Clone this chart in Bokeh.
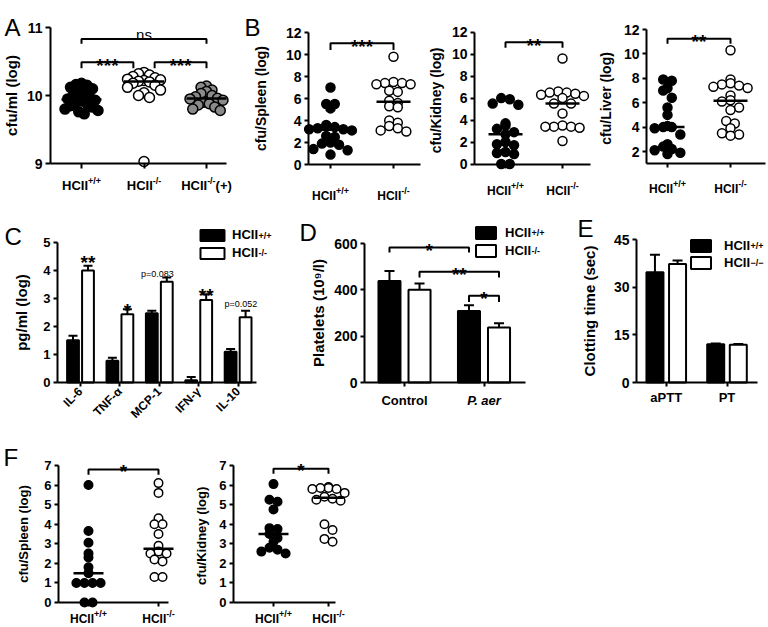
import math
import numpy as np
from bokeh.plotting import figure
from bokeh.models import (Range1d, FixedTicker, Label, Whisker, TeeHead,
                          ColumnDataSource, Legend, LegendItem)
from bokeh.layouts import row, column
from bokeh.embed import file_html
from bokeh.resources import INLINE

FONT = "Liberation Sans"

# ---------------- data ----------------
# Panel A: cfu/ml (log)
A_X = [1, 2, 3]
A_SUP = ["+/+", "-/-", "-/-"]
A_TAIL = ["", "", "(+)"]
A_WT = [10.18, 10.16, 10.15, 10.12, 10.10, 10.06, 10.03, 10.00, 9.97, 9.95,
        9.93, 9.92, 9.90, 9.88, 9.85, 9.83, 9.80, 9.78, 9.76, 9.73]
A_KO = [10.34, 10.32, 10.30, 10.28, 10.26, 10.24, 10.23, 10.22, 10.21, 10.20,
        10.18, 10.15, 10.12, 10.08, 10.04, 10.00, 9.97, 9.03]
A_KOP = [10.14, 10.12, 10.08, 10.06, 10.03, 10.00, 9.98, 9.96, 9.95, 9.93,
         9.90, 9.88, 9.86, 9.83, 9.80, 9.78]
A_YTICKS = [9, 10, 11]

# Panel B: organ counts (log)
B_X = [1, 2]
B_SUP = ["+/+", "-/-"]
B_SPLEEN_WT = [7.0, 5.5, 5.5, 5.1, 3.6, 3.4, 3.3, 3.2, 3.2, 3.1, 2.6, 2.5, 2.0, 1.9, 1.8, 1.4, 1.3, 0.9]
B_SPLEEN_KO = [9.8, 7.5, 7.4, 7.4, 7.3, 7.3, 6.7, 6.6, 5.8, 5.6, 5.3, 5.2, 4.0, 3.8, 3.5, 3.3, 3.1, 3.0]
B_KIDNEY_WT = [6.0, 5.9, 5.5, 5.4, 3.7, 3.5, 3.2, 2.9, 2.7, 2.0, 1.8, 1.7, 1.1, 1.0, 0.9, 0.0, 0.0]
B_KIDNEY_KO = [9.6, 6.6, 6.5, 6.5, 6.4, 6.3, 6.2, 6.0, 5.5, 5.5, 4.6, 3.5, 3.4, 3.4, 3.4, 3.3, 2.1]
B_LIVER_WT = [7.9, 7.8, 7.2, 7.0, 6.4, 5.6, 5.0, 4.1, 4.0, 4.0, 3.9, 3.4, 2.6, 2.4, 2.2, 2.1, 1.9, 1.8]
B_LIVER_KO = [10.3, 7.9, 7.6, 7.5, 7.4, 7.3, 7.2, 6.6, 6.2, 6.1, 5.6, 5.4, 4.5, 4.3, 3.9, 3.5, 3.4, 3.3]
B_YTICKS = [0, 2, 4, 6, 8, 10, 12]
B_LIVER_YTICKS = [2, 4, 6, 8, 10, 12]

# Panel C: cytokines pg/ml (log)
C_CYTOKINES = ["IL-6", "TNF-\u03b1", "MCP-1", "IFN-\u03b3", "IL-10"]
C_WT = [1.51, 0.78, 2.47, 0.08, 1.10]
C_WT_ERR = [0.16, 0.10, 0.09, 0.12, 0.10]
C_KO = [4.00, 2.44, 3.60, 2.95, 2.33]
C_KO_ERR = [0.17, 0.18, 0.15, 0.20, 0.23]
C_YTICKS = [0, 1, 2, 3, 4, 5]

# Panel D: platelets
D_GROUPS = ["Control", "P. aer"]
D_WT = [438, 309]
D_WT_ERR = [43, 24]
D_KO = [400, 237]
D_KO_ERR = [27, 19]
D_YTICKS = [0, 200, 400, 600]

# Panel E: clotting time
E_TESTS = ["aPTT", "PT"]
E_WT = [34.7, 12.0]
E_WT_ERR = [5.5, 0.3]
E_KO = [37.3, 11.9]
E_KO_ERR = [1.1, 0.2]
E_YTICKS = [0, 15, 30, 45]

# Panel F
F_SPLEEN_WT = [6.0, 3.65, 3.05, 2.5, 2.3, 1.8, 1.5, 1.0, 1.0, 1.0, 1.0, 0.0, 0.0]
F_SPLEEN_KO = [6.1, 5.6, 4.3, 4.0, 4.0, 3.5, 2.9, 2.6, 2.5, 2.5, 2.2, 2.1, 1.3, 1.3]
F_KIDNEY_WT = [6.05, 5.25, 5.15, 4.75, 3.8, 3.75, 3.5, 3.3, 3.1, 2.8, 2.7, 2.6, 2.5]
F_KIDNEY_KO = [5.9, 5.85, 5.85, 5.8, 5.8, 5.6, 5.4, 5.3, 5.25, 5.2, 4.0, 3.7, 3.25, 3.1]
F_YTICKS = [0, 1, 2, 3, 4, 5, 6, 7]

# ---------------- helpers ----------------
W = {'H': .722, 'C': .722, 'I': .278, '+': .584, '/': .278, '-': .333,
     '\u2212': .584, '(': .333, ')': .333}


def tw(s, size):
    return sum(W.get(ch, .556) for ch in s) * size


class Panel:
    """Figure whose frame covers its whole box; axes sit at fixed locations."""

    def __init__(self, box, xref, yref):
        (xp1, xv1), (xp2, xv2) = xref
        (yp1, yv1), (yp2, yv2) = yref
        self.xp1, self.xv1, self.ax = xp1, xv1, (xv2 - xv1) / (xp2 - xp1)
        self.yp1, self.yv1, self.ay = yp1, yv1, (yv2 - yv1) / (yp2 - yp1)
        self.ppx = abs(1 / self.ax)
        self.ppy = abs(1 / self.ay)
        bl, bt, br, bb = box
        self.box = box
        self.p = figure(width=br - bl, height=bb - bt,
                        x_range=Range1d(self.vx(bl), self.vx(br)),
                        y_range=Range1d(self.vy(bb), self.vy(bt)),
                        min_border_left=0, min_border_right=0,
                        min_border_top=0, min_border_bottom=0,
                        output_backend="svg", toolbar_location=None, title=None)
        self.p.outline_line_color = None
        self.p.xgrid.visible = False
        self.p.ygrid.visible = False

    def vx(self, px):
        return self.xv1 + (px - self.xp1) * self.ax

    def vy(self, py):
        return self.yv1 + (py - self.yp1) * self.ay


def lab(P, x, y, text, size, style="bold", align="left", xo=0, yo=0):
    P.p.add_layout(Label(x=x, y=y, text=text, x_offset=xo, y_offset=yo,
                         text_font=FONT, text_font_size=f"{size}px",
                         text_font_style=style, text_align=align,
                         text_baseline="alphabetic", text_color="black"))


def plab(P, px, py, text, size, style="bold", align="left"):
    lab(P, P.vx(px), P.vy(py), text, size, style=style, align=align)


def hcii(P, x, y, sup, tail="", size=13, supsize=9, rise=5, center=True, xo=0):
    wm, ws, wt = tw("HCII", size), tw(sup, supsize), tw(tail, size)
    x0 = xo - (wm + ws + wt) / 2 if center else xo
    lab(P, x, y, "HCII", size, xo=x0)
    lab(P, x, y, sup, supsize, xo=x0 + wm, yo=rise)
    if tail:
        lab(P, x, y, tail, size, xo=x0 + wm + ws)


def style(P, yaxis_px, xend_px, x_at, yticks, ybounds, ylabel, ylab_size,
          ylab_standoff, tick_size, xticks, xlabels=None, xlab_size=13,
          xorient=None, tick_out=4, ystandoff=3):
    p = P.p
    ya, xa = p.yaxis[0], p.xaxis[0]
    for ax in (ya, xa):
        ax.axis_line_width = 2
        ax.axis_line_color = "black"
        ax.major_tick_line_width = 2
        ax.major_tick_line_color = "black"
        ax.major_tick_in = 0
        ax.major_tick_out = tick_out
        ax.minor_tick_line_color = None
        ax.major_label_text_font = FONT
        ax.major_label_text_font_style = "bold"
        ax.major_label_text_color = "black"
        ax.major_label_standoff = 3
    ya.major_label_standoff = ystandoff
    ya.fixed_location = P.vx(yaxis_px)
    ya.ticker = FixedTicker(ticks=yticks)
    ya.bounds = ybounds
    ya.major_label_text_font_size = f"{tick_size}px"
    ya.axis_label = ylabel
    ya.axis_label_text_font = FONT
    ya.axis_label_text_font_style = "bold"
    ya.axis_label_text_font_size = f"{ylab_size}px"
    ya.axis_label_standoff = ylab_standoff
    ya.axis_label_text_color = "black"
    xa.fixed_location = x_at
    xa.ticker = FixedTicker(ticks=xticks)
    xa.bounds = (P.vx(yaxis_px), P.vx(xend_px))
    if xlabels is None:
        xa.major_label_overrides = {float(t): "" for t in xticks}
    else:
        xa.major_label_overrides = {float(t): l for t, l in zip(xticks, xlabels)}
    xa.major_label_text_font_size = f"{xlab_size}px"
    if xorient is not None:
        xa.major_label_orientation = xorient


def swarm(vals, diam, ppy, ppx, spacing=0.95):
    """Column-scatter layout: points falling in the same vertical bin are
    spread side by side, centred on the category."""
    vals = np.asarray(vals, float)
    bins = np.round(vals * ppy / diam)
    offs = np.zeros(len(vals))
    for b in np.unique(bins):
        idx = np.where(bins == b)[0]
        idx = idx[np.argsort(-vals[idx], kind="stable")]
        n = len(idx)
        slots = [(s - (n - 1) / 2) for s in range(n)]
        slot_order = sorted(range(n), key=lambda s: abs(slots[s] + 0.01))
        for k, i in enumerate(idx):
            offs[i] = slots[slot_order[k]] * diam * spacing / ppx
    return offs


def scatter_group(P, x, vals, diam, fill, med_half, lw=1.5, spacing=0.95):
    offs = swarm(vals, diam, P.ppy, P.ppx, spacing)
    xs = [x + o for o in offs]
    P.p.scatter(xs, vals, size=diam, marker="circle", fill_color=fill,
                line_color="black", line_width=lw)
    m = float(np.median(vals))
    hw = med_half / P.ppx
    P.p.segment(x0=[x - hw], y0=[m], x1=[x + hw], y1=[m],
                line_color="black", line_width=2.5)


def bracket(P, x1, x2, ybar, ytip, text, size=19, yo=-3, style="bold"):
    P.p.line([x1, x1, x2, x2], [ytip, ybar, ybar, ytip], color="black", line_width=2)
    lab(P, (x1 + x2) / 2, ybar, text, size, style=style, align="center", yo=yo)


def bars(P, xs, off, width, wt, wt_err, ko, ko_err, cap):
    p = P.p
    xw = [x - off for x in xs]
    xk = [x + off for x in xs]
    for xx, v, e in ((xw, wt, wt_err), (xk, ko, ko_err)):
        src = ColumnDataSource(dict(x=xx, lower=v, upper=[a + b for a, b in zip(v, e)]))
        p.add_layout(Whisker(base="x", lower="lower", upper="upper", source=src,
                             dimension="height", line_color="black", line_width=2,
                             upper_head=TeeHead(size=cap, line_width=2, line_color="black"),
                             lower_head=None))
    r1 = p.vbar(x=xw, top=wt, bottom=0, width=width, fill_color="black",
                line_color="black", line_width=2)
    r2 = p.vbar(x=xk, top=ko, bottom=0, width=width, fill_color="white",
                line_color="black", line_width=2)
    return r1, r2


def legend(P, r1, r2, left_px, top_px, gw, gh, sp, standoff, sups):
    bl, bt, br, bb = P.box
    H = 2 * gh + sp
    leg = Legend(items=[LegendItem(label="HCII", renderers=[r1]),
                        LegendItem(label="HCII", renderers=[r2])],
                 location=(left_px - bl, bb - top_px - H),
                 orientation="vertical", glyph_width=gw, glyph_height=gh,
                 label_height=gh, spacing=sp, padding=0, margin=0,
                 label_standoff=standoff, border_line_color=None,
                 background_fill_alpha=0, label_text_font=FONT,
                 label_text_font_style="bold", label_text_font_size="13px",
                 label_text_color="black")
    P.p.add_layout(leg)
    tx = left_px + gw + standoff + tw("HCII", 13)
    for i, s in enumerate(sups):
        cy = top_px + i * (gh + sp) + gh / 2
        plab(P, tx, cy - 0.5, s, 9)


# ---------------- Row 1 (page y 0..210) ----------------
PA = Panel((0, 0, 240, 210), ((81, 1), (143.5, 2)), ((163, 9), (27, 11)))
style(PA, 50, 226, 9, A_YTICKS, (9, 11), "cfu/ml (log)", 15, 4, 14, A_X, tick_out=5)
scatter_group(PA, A_X[0], A_WT, 10, "black", 20, spacing=0.55)
scatter_group(PA, A_X[1], A_KO, 10, "white", 20, spacing=0.55)
scatter_group(PA, A_X[2], A_KOP, 10, "#8a8a8a", 20, spacing=0.55)
for x, s, t in zip(A_X, A_SUP, A_TAIL):
    hcii(PA, x, PA.vy(185), s, t, size=13)
bracket(PA, 1, 3, 10.83, 10.76, "ns", size=15, yo=5, style="normal")
bracket(PA, 1, 1.83, 10.49, 10.40, "***")
bracket(PA, 2.17, 3, 10.49, 10.40, "***")
plab(PA, 4, 27, "A", 24, style="normal")

PB1 = Panel((240, 0, 428, 210), ((330, 1), (393, 2)), ((164, 0), (32, 12)))
style(PB1, 308, 420, 0, B_YTICKS, (0, 12), "cfu/Spleen (log)", 14, 14, 14, B_X)
scatter_group(PB1, 1, B_SPLEEN_WT, 9, "black", 17)
scatter_group(PB1, 2, B_SPLEEN_KO, 9, "white", 17)
for x, s in zip(B_X, B_SUP):
    hcii(PB1, x, PB1.vy(195), s, size=12)
bracket(PB1, 1, 2, 11.03, 10.42, "***")
plab(PB1, 244, 27, "B", 24, style="normal")

PB2 = Panel((428, 0, 598, 210), ((505, 1), (562, 2)), ((163.5, 0), (31.7, 12)))
style(PB2, 474, 590, 0, B_YTICKS, (0, 12), "cfu/Kidney  (log)", 14, 5, 14, B_X)
scatter_group(PB2, 1, B_KIDNEY_WT, 9, "black", 17)
scatter_group(PB2, 2, B_KIDNEY_KO, 9, "white", 17)
for x, s in zip(B_X, B_SUP):
    hcii(PB2, x, PB2.vy(190), s, size=12)
bracket(PB2, 1, 2, 11.09, 10.58, "**")

PB3 = Panel((598, 0, 768, 210), ((667, 1), (730, 2)), ((151, 2), (29, 12)))
style(PB3, 646, 765, 1, B_LIVER_YTICKS, (1, 12), "cfu/Liver  (log)", 14, 7, 14, B_X)
scatter_group(PB3, 1, B_LIVER_WT, 9, "black", 17)
scatter_group(PB3, 2, B_LIVER_KO, 9, "white", 17)
for x, s in zip(B_X, B_SUP):
    hcii(PB3, x, PB3.vy(188), s, size=12)
bracket(PB3, 1, 2, 11.24, 10.83, "**")

# ---------------- Row 2 (page y 210..435) ----------------
C_X = list(range(len(C_CYTOKINES)))
PC = Panel((0, 210, 290, 435), ((80, 0), (119.4, 1)), ((382, 0), (242, 5)))
style(PC, 57, 256, 0, C_YTICKS, (0, 5), "pg/ml (log)", 15, 10, 13, C_X,
      xlabels=C_CYTOKINES, xlab_size=12, xorient=math.pi / 4)
c1, c2 = bars(PC, C_X, 0.19, 0.30, C_WT, C_WT_ERR, C_KO, C_KO_ERR, 9)
legend(PC, c1, c2, 197, 229, 30, 14, 3, 5, ["+/+", "-/-"])
lab(PC, C_X[0] + 0.19, 4.29, "**", 19, align="center")
lab(PC, C_X[1] + 0.19, 2.57, "*", 19, align="center")
lab(PC, C_X[2] - 0.05, 3.86, "p=0.083", 9, style="normal", align="center")
lab(PC, C_X[3] + 0.19, 3.10, "**", 19, align="center")
lab(PC, C_X[4] + 0.07, 2.82, "p=0.052", 9, style="normal", align="center")
plab(PC, 4, 236, "C", 24, style="normal")

D_X = list(range(len(D_GROUPS)))
PD = Panel((290, 210, 570, 435), ((404, 0), (483.5, 1)), ((382, 0), (243, 600)))
style(PD, 364, 525, 0, D_YTICKS, (0, 600), "Platelets (10\u2079/l)", 15, 4, 14, D_X)
d1, d2 = bars(PD, D_X, 0.189, 0.277, D_WT, D_WT_ERR, D_KO, D_KO_ERR, 10)
legend(PD, d1, d2, 473, 225, 25, 15, 3, 7, ["+/+", "-/-"])
lab(PD, D_X[0], PD.vy(400), D_GROUPS[0], 13, align="center")
lab(PD, D_X[1], PD.vy(400), D_GROUPS[1], 13, style="bold italic", align="center")
bracket(PD, D_X[0] - 0.189, D_X[1] - 0.189, 583, 561, "*")
bracket(PD, D_X[0] + 0.189, D_X[1] + 0.189, 478, 453, "**")
bracket(PD, D_X[1] - 0.189, D_X[1] + 0.189, 374, 348, "*")
plab(PD, 299, 232, "D", 24, style="normal")

E_X = list(range(len(E_TESTS)))
PE = Panel((570, 210, 768, 435), ((665.75, 0), (726.5, 1)), ((382, 0), (239, 45)))
style(PE, 636, 757, 0, E_YTICKS, (0, 45), "Clotting time (sec)", 15, 13, 14, E_X,
      xlabels=E_TESTS, xlab_size=13)
e1, e2 = bars(PE, E_X, 0.186, 0.28, E_WT, E_WT_ERR, E_KO, E_KO_ERR, 10)
legend(PE, e1, e2, 688, 238, 25, 15, 2, 11, ["+/+", "\u2212/\u2212"])
plab(PE, 577, 228, "E", 24, style="normal")

# ---------------- Row 3 (page y 435..627) ----------------
PF1 = Panel((0, 435, 190, 627), ((88, 1), (158, 2)), ((602, 0), (465, 7)))
style(PF1, 58, 168, 0, F_YTICKS, (0, 7), "cfu/Spleen (log)", 13, 10, 13, B_X)
scatter_group(PF1, 1, F_SPLEEN_WT, 8.5, "black", 15)
scatter_group(PF1, 2, F_SPLEEN_KO, 8.5, "white", 15)
for x, s in zip(B_X, B_SUP):
    hcii(PF1, x, PF1.vy(618), s, size=12)
bracket(PF1, 1, 2, 6.8, 6.53, "*", yo=-2)
plab(PF1, 3, 457, "F", 24, style="normal")

PF2 = Panel((190, 435, 360, 627), ((273, 1), (328, 2)), ((602, 0), (465, 7)))
style(PF2, 233, 335, 0, F_YTICKS, (0, 7), "cfu/Kidney  (log)", 13, 7, 13, B_X)
scatter_group(PF2, 1, F_KIDNEY_WT, 8.5, "black", 15)
scatter_group(PF2, 2, F_KIDNEY_KO, 8.5, "white", 15)
for x, s in zip(B_X, B_SUP):
    hcii(PF2, x, PF2.vy(618), s, size=12)
bracket(PF2, 1, 2, 6.83, 6.58, "*", yo=-2)

layout = column(
    row(PA.p, PB1.p, PB2.p, PB3.p, spacing=0),
    row(PC.p, PD.p, PE.p, spacing=0),
    row(PF1.p, PF2.p, spacing=0),
    spacing=0,
)

with open("out.html", "w") as f:
    f.write(file_html(layout, INLINE))
